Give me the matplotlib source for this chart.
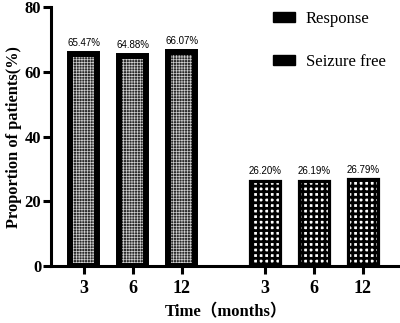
import matplotlib
matplotlib.use('Agg')
import matplotlib.pyplot as plt
from matplotlib.patches import Patch
import numpy as np

# data
months = ['3', '6', '12']
response = [65.47, 64.88, 66.07]
seizure_free = [26.20, 26.19, 26.79]
groups = ['Response', 'Seizure free']

plt.rcParams['font.family'] = ['Liberation Serif', 'Noto Sans CJK SC']

fig = plt.figure(figsize=(4, 3.23), dpi=100)
ax = fig.add_axes([0.1275, 0.176, 0.875, 0.802])

x1 = np.arange(len(months))
x2 = x1 + 3.69

# response: fine grey check, thick black frame
plt.rcParams['hatch.linewidth'] = 0.5
ax.bar(x1, response, width=0.55, color='#2a2a2a', edgecolor='#d0d0d0',
       hatch='++++++', linewidth=0, zorder=2)
ax.bar(x1, response, width=0.55, fill=False, edgecolor='black',
       linewidth=4.3, zorder=3)

# seizure free: coarser check, thinner frame
plt.rcParams['hatch.linewidth'] = 2.0
ax.bar(x2, seizure_free, width=0.61, color='white', edgecolor='black',
       hatch='+++', linewidth=0, zorder=2)
ax.bar(x2, seizure_free, width=0.61, fill=False, edgecolor='black',
       linewidth=2.3, zorder=3)

for xs, vals, off in [(x1, response, 1.9), (x2, seizure_free, 1.5)]:
    for xx, v in zip(xs, vals):
        ax.text(xx, v + off, f'{v:.2f}%', ha='center', va='bottom',
                fontsize=7, family='Liberation Sans')

ax.set_xlim(-0.67, 6.47)
ax.set_ylim(0, 80)
ax.set_yticks([0, 20, 40, 60, 80])
ax.set_xticks(np.concatenate([x1, x2]))
ax.set_xticklabels(months + months)

for s in ['top', 'right']:
    ax.spines[s].set_visible(False)
for s in ['left', 'bottom']:
    ax.spines[s].set_linewidth(2.2)

ax.tick_params(axis='y', length=6, width=2.2, pad=1, labelsize=12)
ax.tick_params(axis='x', length=6, width=2.2, pad=4, labelsize=13)
for lab in ax.get_xticklabels() + ax.get_yticklabels():
    lab.set_fontweight('bold')

ax.set_ylabel('Proportion of patients(%)', fontsize=11.8, fontweight='bold',
              labelpad=2)
ax.set_xlabel('Time\uff08months\uff09', fontsize=12, fontweight='bold',
              labelpad=5)

handles = [Patch(facecolor='black', edgecolor='black', label=groups[0]),
           Patch(facecolor='black', edgecolor='black', label=groups[1])]
fig.legend(handles=handles, loc='upper left', bbox_to_anchor=(0.655, 1.0),
           frameon=False, fontsize=12, borderpad=0.15, handlelength=1.32,
           handleheight=0.54, handletextpad=0.65, labelspacing=1.63)

fig.savefig('out.png', dpi=100)
